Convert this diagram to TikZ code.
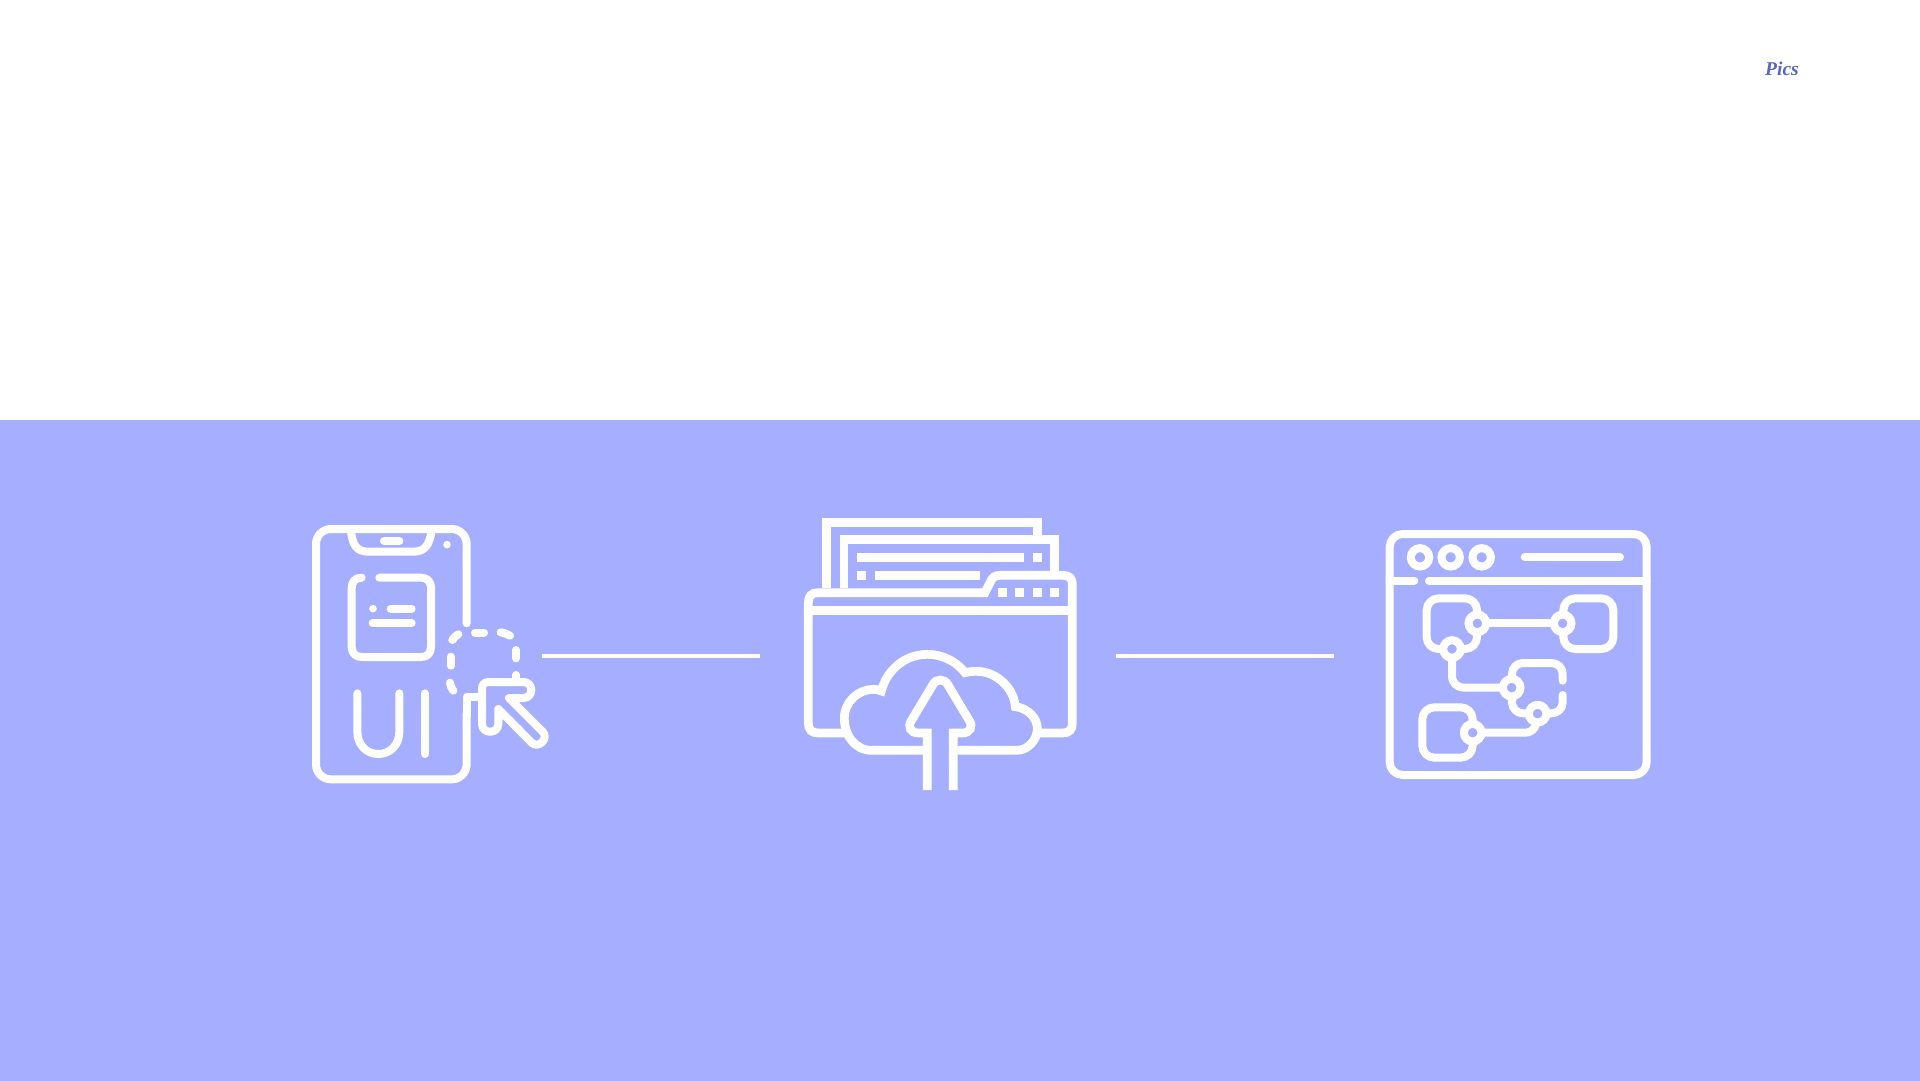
\documentclass[tikz,border=0pt]{standalone}
\usepackage{fontspec}
\newfontfamily\picsfont{Liberation Serif}
\definecolor{band}{HTML}{A6AFFF}
\definecolor{picsblue}{HTML}{5567C2}
\tikzset{
  zoomed/.style={x=0.33333pt,y=-0.33333pt},
  roundline/.style={draw=white,line width=8pt,line cap=round,line join=round},
  squareline/.style={draw=white,line width=8.7pt,line cap=butt,line join=miter},
  whitebox/.style={fill=white,draw=none},
  hub/.style={draw=white,fill=band,line width=8pt},
  divline/.style={draw=white,line width=4pt}
}
\begin{document}
\begin{tikzpicture}[x=1pt,y=-1pt]
\useasboundingbox (0,0) rectangle (1920,1080);
\fill[white] (-5,-5) rectangle (1925,1085);
\fill[band] (-5,420) rectangle (1925,1085);
\node[anchor=base,inner sep=0pt,text=picsblue,font=\picsfont\bfseries\itshape\fontsize{19.5}{20}\selectfont] (pics) at (1782,75) {Pics};
% phone icon
\begin{scope}[shift={(290,500)},zoomed]
\draw[roundline,rounded corners=15pt] (530,370) -- (530,87) -- (78,87) -- (78,838) -- (530,838) -- (530,640);
\draw[roundline,line cap=butt] (530,650) -- (530,590) -- (570,590);
\draw[roundline,line cap=butt] (183,92) .. controls (187,135) and (200,155) .. (235,155) -- (370,155) .. controls (405,155) and (418,135) .. (425,92);
\draw[roundline] (282,123) -- (328,123);
\fill[white] (471,134) circle[radius=3.8pt];
\draw[roundline] (215,233) .. controls (195,233) and (185,245) .. (185,265) -- (185,440) .. controls (185,460) and (197,471) .. (215,471) -- (393,471) .. controls (412,471) and (423,460) .. (423,440) -- (423,263) .. controls (423,245) and (412,233) .. (393,233) -- (268,233);
\fill[white] (249,326) circle[radius=3.8pt];
\draw[roundline] (302,326) -- (365,326);
\draw[roundline] (248,369) -- (365,369);
\draw[roundline] (202,580) -- (202,695) .. controls (202,735) and (230,762) .. (265,762) .. controls (300,762) and (328,735) .. (328,695) -- (328,580);
\draw[roundline] (405,580) -- (405,762);
\draw[roundline] (487,420) .. controls (491,412) and (498,407) .. (505,403);
\draw[roundline] (555,398) -- (582,398);
\draw[roundline] (632,397) .. controls (642,398) and (652,402) .. (660,407);
\draw[roundline] (678,450) -- (678,475);
\draw[roundline] (678,525) -- (678,535);
\draw[roundline] (482,470) -- (482,497);
\draw[roundline] (480,548) .. controls (481,557) and (484,565) .. (490,572);
\draw[roundline] (576,675) -- (576,565) .. controls (576,553) and (584,546) .. (596,546) -- (700,546) .. controls (714,546) and (724,556) .. (724,570) .. controls (724,584) and (714,594) .. (700,594) -- (657,594) -- (758,695) .. controls (778,715) and (745,748) .. (725,728) -- (625,627) -- (625,672) .. controls (625,703) and (576,703) .. (576,672);
\end{scope}
% folder icon
\begin{scope}[shift={(790,500)},zoomed]
\draw[squareline] (109,265) -- (109,67) -- (742,67) -- (742,105);
\draw[squareline] (162,265) -- (162,118) -- (794,118) -- (794,213);
\fill[whitebox] (201,159) rectangle (702,185);
\fill[whitebox] (729,159) rectangle (755,185);
\fill[whitebox] (201,212) rectangle (228,239);
\fill[whitebox] (254,212) rectangle (570,239);
\draw[squareline] (165,699) -- (85,699) .. controls (65,699) and (55,689) .. (55,670) -- (55,308) .. controls (55,288) and (65,278) .. (85,278) -- (585,278) -- (600,248) .. controls (606,232) and (615,226) .. (630,226) -- (820,226) .. controls (838,226) and (847,236) .. (847,252) -- (847,670) .. controls (847,689) and (838,699) .. (818,699) -- (750,699);
\draw[squareline] (55,331) -- (847,331);
\fill[whitebox] (624,265) rectangle (650,291);
\fill[whitebox] (676,265) rectangle (702,291);
\fill[whitebox] (729,265) rectangle (755,291);
\fill[whitebox] (781,265) rectangle (807,291);
\draw[squareline] (400,751) -- (245,751) .. controls (195,751) and (163,705) .. (163,655) .. controls (163,605) and (205,568) .. (250,568) .. controls (258,568) and (265,569) .. (274,573) .. controls (290,510) and (345,463) .. (412,463) .. controls (458,463) and (500,485) .. (525,518) .. controls (537,515) and (548,514) .. (560,514) .. controls (620,514) and (672,565) .. (676,620) .. controls (715,625) and (742,655) .. (742,685) .. controls (742,722) and (712,751) .. (680,751) -- (502,751);
\draw[squareline] (412,870) -- (412,699) -- (385,699) .. controls (362,699) and (352,680) .. (364,662) -- (428,555) .. controls (438,535) and (464,535) .. (474,555) -- (538,662) .. controls (550,680) and (540,699) .. (517,699) -- (490,699) -- (490,870);
\end{scope}
% window icon
\begin{scope}[shift={(1370,510)},zoomed]
\draw[roundline,rounded corners=13pt] (59,72) rectangle (830,795);
\draw[hub,fill=none] (150,142) circle[radius=9.2pt];
\draw[hub,fill=none] (242,142) circle[radius=9.2pt];
\draw[hub,fill=none] (335,142) circle[radius=9.2pt];
\draw[roundline] (464,142) -- (750,142);
\draw[roundline] (59,212) -- (133,212);
\draw[roundline] (177,212) -- (830,212);
\draw[roundline,rounded corners=12pt] (170,265) rectangle (321,417);
\draw[roundline,rounded corners=12pt] (580,265) rectangle (730,417);
\draw[roundline,rounded corners=12pt] (157,592) rectangle (308,743);
\draw[roundline] (322,340) -- (578,340);
\draw[roundline] (246,417) -- (246,495) .. controls (246,520) and (260,533) .. (285,533) -- (425,533);
\draw[roundline,rounded corners=11pt] (578,512) -- (578,459) -- (426,459) -- (426,610) -- (578,610) -- (578,555);
\draw[roundline] (308,668) -- (465,668) .. controls (488,668) and (503,650) .. (503,611);
\filldraw[hub] (322,340) circle[radius=8.8pt];
\filldraw[hub] (246,417) circle[radius=8.8pt];
\filldraw[hub] (578,340) circle[radius=8.8pt];
\filldraw[hub] (425,533) circle[radius=8.8pt];
\filldraw[hub] (503,611) circle[radius=8.8pt];
\filldraw[hub] (308,668) circle[radius=8.8pt];
\end{scope}
% connectors
\coordinate (a1) at (542,655.5);
\coordinate (a2) at (760,655.5);
\coordinate (b1) at (1115.5,655.5);
\coordinate (b2) at (1333.5,655.5);
\draw[divline] (a1) -- (a2);
\draw[divline] (b1) -- (b2);
\end{tikzpicture}
\end{document}
